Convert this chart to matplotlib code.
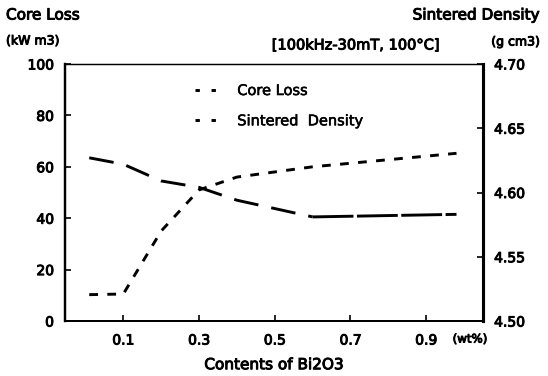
import matplotlib
matplotlib.use("Agg")
import matplotlib.pyplot as plt
from matplotlib.lines import Line2D
import matplotlib.patheffects as pe

plt.rcParams['font.family'] = ['DejaVu Sans']

# Data
bi2o3 = [0.01, 0.1, 0.2, 0.3, 0.4, 0.6, 0.98]
core_loss = [63.5, 61.0, 54.5, 52.0, 47.0, 40.5, 41.5]
density_x = [0.01, 0.1, 0.2, 0.3, 0.4, 0.6, 0.98]
density = [4.5205, 4.521, 4.570, 4.602, 4.612, 4.620, 4.6305]

x_ticks = [0.1, 0.3, 0.5, 0.7, 0.9]
x_ticklabels = ['0.1', '0.3', '0.5', '0.7', '0.9']
y_ticks = [0, 20, 40, 60, 80, 100]
y2_ticks = [4.50, 4.55, 4.60, 4.65, 4.70]
y2_ticklabels = ['4.50', '4.55', '4.60', '4.65', '4.70']

W, H = 548, 376
fig = plt.figure(figsize=(W / 100, H / 100), dpi=100)
L, R, T, B = 65, 483, 64, 321
ax = fig.add_axes([L / W, 1 - B / H, (R - L) / W, (B - T) / H])
ax2 = ax.twinx()

ax.set_xlim(-0.054, 1.05)
ax.set_ylim(0, 100)
ax2.set_ylim(4.50, 4.70)

lw = 2.1
# core loss: long dashes, the flat tail drawn almost solid as in the scan
ax.plot(bi2o3[:6], core_loss[:6], color='black', lw=lw, dashes=(8.5, 4.5),
        dash_capstyle='butt')
ax.plot(bi2o3[5:], core_loss[5:], color='black', lw=lw, dashes=(14, 1.2),
        dash_capstyle='butt')
ax2.plot(density_x, density, color='black', lw=lw, dashes=(3, 3.2),
         dash_capstyle='butt')

thick = [pe.withStroke(linewidth=0.7, foreground='black')]
fs = 10
ax.set_xticks(x_ticks)
ax.set_xticklabels(x_ticklabels, fontsize=fs)
ax.set_yticks(y_ticks)
ax.set_yticklabels([str(v) for v in y_ticks], fontsize=fs)
ax2.set_yticks(y2_ticks)
ax2.set_yticklabels(y2_ticklabels, fontsize=fs)
for t in ax.get_xticklabels() + ax.get_yticklabels() + ax2.get_yticklabels():
    t.set_path_effects(thick)

ax.tick_params(axis='both', direction='in', length=4, width=1.2, pad=8)
ax.tick_params(axis='x', pad=9)
ax2.tick_params(axis='y', direction='in', length=4, width=1.2, pad=8)

for a in (ax, ax2):
    a.spines['top'].set_linewidth(0.9)
    a.spines['left'].set_linewidth(1.6)
    a.spines['bottom'].set_linewidth(1.4)
    a.spines['right'].set_linewidth(2.2)

ax.set_xlabel('Contents of Bi2O3', fontsize=11, labelpad=7, path_effects=thick)

fig.text(6 / W, 1 - 15 / H, 'Core Loss', fontsize=11, va='center', ha='left', path_effects=thick)
fig.text(6 / W, 1 - 41 / H, '(kW m3)', fontsize=9, va='center', ha='left', path_effects=thick)
fig.text(540 / W, 1 - 15 / H, 'Sintered Density', fontsize=11, va='center', ha='right',
         path_effects=thick)
fig.text(540 / W, 1 - 42 / H, '(g cm3)', fontsize=9, va='center', ha='right', path_effects=thick)
fig.text(356 / W, 1 - 45 / H, '[100kHz-30mT, 100°C]', fontsize=10.5,
         va='center', ha='center', path_effects=thick)
fig.text(470 / W, 1 - 339 / H, '(wt%)', fontsize=8.5, va='center', ha='center', path_effects=thick)

h1 = Line2D([], [], color='black', lw=lw, dashes=(1.5, 4))
h2 = Line2D([], [], color='black', lw=lw, dashes=(1.5, 4))
leg = ax.legend([h1, h2], ['Core Loss', 'Sintered  Density'], loc='upper left',
                bbox_to_anchor=(195 / W, 1 - 83 / H), bbox_transform=fig.transFigure,
                frameon=False, handlelength=1.5, handletextpad=1.4,
                labelspacing=1.05, borderaxespad=0, borderpad=0,
                prop={'size': 10.5})
for t in leg.get_texts():
    t.set_path_effects([pe.withStroke(linewidth=0.4, foreground='black')])

fig.savefig('out.png', dpi=100)
